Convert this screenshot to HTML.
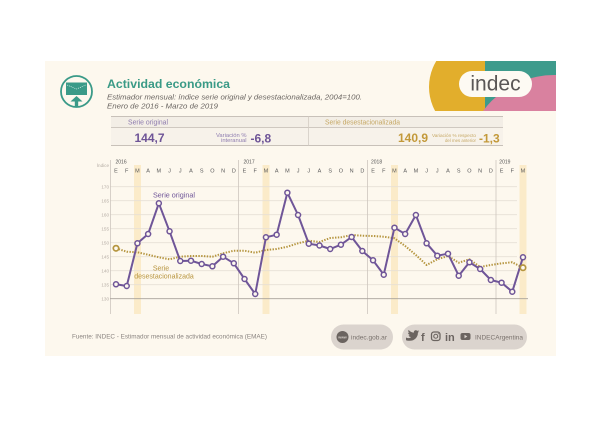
<!DOCTYPE html>
<html><head><meta charset="utf-8"><style>
html,body{margin:0;padding:0;background:#fff;}
svg{display:block;}
text{font-family:"Liberation Sans",sans-serif;}
</style></head><body>
<svg width="600" height="430" viewBox="0 0 600 430" xmlns="http://www.w3.org/2000/svg">
<defs>
<clipPath id="cc"><rect x="45" y="61" width="511" height="50"/></clipPath>
</defs>
<rect x="0" y="0" width="600" height="430" fill="#fff"/>
<rect x="45" y="61" width="511" height="295" fill="#fdf8ee"/>

<!-- decoration -->
<g clip-path="url(#cc)">
<circle cx="479" cy="87" r="50" fill="#e2ae2c"/>
<rect x="485" y="61" width="71" height="50" fill="#3e9b8c"/>
<circle cx="554" cy="163" r="88" fill="#d9819f"/>
</g>
<rect x="459" y="71" width="73" height="26" rx="13" fill="#fdfaf3"/>
<text x="495.5" y="90.5" font-size="21" fill="#5a5756" text-anchor="middle">indec</text>

<!-- icon -->
<circle cx="76.5" cy="91.5" r="15.5" fill="#fdf8ee" stroke="#3a9a88" stroke-width="1.8"/>
<rect x="66" y="82.5" width="21" height="12.5" fill="#3a9a88"/>
<polyline points="67,85 76.5,89 86,85" fill="none" stroke="#fff" stroke-width="0.6" stroke-dasharray="1 1"/>
<polygon points="70.5,101.5 82.5,101.5 76.5,96" fill="#3a9a88"/>
<rect x="74.8" y="101" width="3.4" height="6" fill="#3a9a88"/>

<!-- title -->
<text x="107" y="88" font-size="12.3" font-weight="bold" fill="#3a9a86" textLength="123" lengthAdjust="spacingAndGlyphs">Actividad económica</text>
<text x="107" y="99.5" font-size="7" font-style="italic" fill="#6a6561" textLength="255" lengthAdjust="spacingAndGlyphs">Estimador mensual: índice serie original y desestacionalizada, 2004=100.</text>
<text x="107" y="108.6" font-size="7" font-style="italic" fill="#6a6561" textLength="111" lengthAdjust="spacingAndGlyphs">Enero de 2016 - Marzo de 2019</text>

<!-- table -->
<rect x="111" y="116.5" width="392" height="11" fill="#f3eee6"/>
<rect x="111" y="127.5" width="392" height="18" fill="#f7f2ea"/>
<line x1="111" y1="116.5" x2="503" y2="116.5" stroke="#c8c1b9" stroke-width="1"/>
<line x1="111" y1="127.5" x2="503" y2="127.5" stroke="#cfc8c0" stroke-width="1"/>
<line x1="111" y1="145.5" x2="503" y2="145.5" stroke="#c8c1b9" stroke-width="1"/>
<line x1="308.5" y1="116.5" x2="308.5" y2="145.5" stroke="#d3ccc4" stroke-width="0.8"/>
<text x="128" y="124.5" font-size="6.9" fill="#8e7caf" textLength="40" lengthAdjust="spacingAndGlyphs">Serie original</text>
<text x="325" y="124.5" font-size="6.9" fill="#c6a865" textLength="75" lengthAdjust="spacingAndGlyphs">Serie desestacionalizada</text>
<text x="134.5" y="142" font-size="12" font-weight="bold" fill="#6e5497">144,7</text>
<text x="246.5" y="137" font-size="5.8" fill="#8e7caf" text-anchor="end">Variación %</text>
<text x="246.5" y="142" font-size="5.8" fill="#8e7caf" text-anchor="end">interanual</text>
<text x="250.5" y="142.5" font-size="12" font-weight="bold" fill="#6e5497">-6,8</text>
<text x="398" y="142" font-size="12" font-weight="bold" fill="#c3993a">140,9</text>
<text x="432" y="136.8" font-size="4.8" fill="#c6a865" textLength="44" lengthAdjust="spacingAndGlyphs">Variación % respecto</text>
<text x="445" y="141.8" font-size="4.8" fill="#c6a865" textLength="31" lengthAdjust="spacingAndGlyphs">del mes anterior</text>
<text x="479" y="142.5" font-size="12" font-weight="bold" fill="#c3993a">-1,3</text>

<!-- chart bands -->
<rect x="134" y="165" width="7" height="149" fill="#fbebc9"/>
<rect x="262.5" y="165" width="7" height="149" fill="#fbebc9"/>
<rect x="391" y="165" width="7" height="149" fill="#fbebc9"/>
<rect x="519.5" y="165" width="7" height="149" fill="#fbebc9"/>

<!-- grid -->
<g stroke="#e7e0d6" stroke-width="0.8">
<line x1="110" y1="186.7" x2="517" y2="186.7"/>
<line x1="110" y1="200.7" x2="517" y2="200.7"/>
<line x1="110" y1="214.7" x2="517" y2="214.7"/>
<line x1="110" y1="228.7" x2="517" y2="228.7"/>
<line x1="110" y1="242.7" x2="517" y2="242.7"/>
<line x1="110" y1="256.7" x2="517" y2="256.7"/>
<line x1="110" y1="270.7" x2="517" y2="270.7"/>
<line x1="110" y1="284.7" x2="517" y2="284.7"/>
</g>
<g stroke="#cdc6be" stroke-width="0.8">
<line x1="110.5" y1="160" x2="110.5" y2="314"/>
<line x1="238.5" y1="160" x2="238.5" y2="314"/>
<line x1="367.5" y1="160" x2="367.5" y2="314"/>
<line x1="496" y1="160" x2="496" y2="314"/>
</g>
<line x1="110" y1="298.7" x2="528" y2="298.7" stroke="#a8a19a" stroke-width="0.9"/>

<g font-size="4.6" fill="#b5ada5" text-anchor="end">
<text x="109" y="167">Índice</text>
<text x="109" y="188.4">170</text>
<text x="109" y="202.4">165</text>
<text x="109" y="216.4">160</text>
<text x="109" y="230.4">155</text>
<text x="109" y="244.4">150</text>
<text x="109" y="258.4">145</text>
<text x="109" y="272.4">140</text>
<text x="109" y="286.4">135</text>
<text x="109" y="300.4">130</text>
</g>

<g font-size="5" fill="#555">
<text x="115.5" y="163.5">2016</text>
<text x="243.5" y="163.5">2017</text>
<text x="371" y="163.5">2018</text>
<text x="499.3" y="163.5">2019</text>
</g>
<g font-size="5.5" fill="#5a5a5a" text-anchor="middle">
<text x="116" y="172.5">E</text><text x="126.71" y="172.5">F</text><text x="137.42" y="172.5">M</text><text x="148.13" y="172.5">A</text><text x="158.84" y="172.5">M</text><text x="169.55" y="172.5">J</text><text x="180.26" y="172.5">J</text><text x="190.97" y="172.5">A</text><text x="201.68" y="172.5">S</text><text x="212.39" y="172.5">O</text><text x="223.1" y="172.5">N</text><text x="233.81" y="172.5">D</text>
<text x="244.52" y="172.5">E</text><text x="255.23" y="172.5">F</text><text x="265.94" y="172.5">M</text><text x="276.65" y="172.5">A</text><text x="287.36" y="172.5">M</text><text x="298.07" y="172.5">J</text><text x="308.78" y="172.5">J</text><text x="319.49" y="172.5">A</text><text x="330.2" y="172.5">S</text><text x="340.91" y="172.5">O</text><text x="351.62" y="172.5">N</text><text x="362.33" y="172.5">D</text>
<text x="373.04" y="172.5">E</text><text x="383.75" y="172.5">F</text><text x="394.46" y="172.5">M</text><text x="405.17" y="172.5">A</text><text x="415.88" y="172.5">M</text><text x="426.59" y="172.5">J</text><text x="437.3" y="172.5">J</text><text x="448.01" y="172.5">A</text><text x="458.72" y="172.5">S</text><text x="469.43" y="172.5">O</text><text x="480.14" y="172.5">N</text><text x="490.85" y="172.5">D</text>
<text x="501.56" y="172.5">E</text><text x="512.27" y="172.5">F</text><text x="522.98" y="172.5">M</text>
</g>

<!-- desest series -->
<polyline fill="none" stroke="#b5953f" stroke-width="2" stroke-dasharray="1.4 1.4" stroke-linejoin="round" points="116,248.3 126.71,251.7 137.42,252.3 148.13,254.7 158.84,257.3 169.55,259.3 180.26,256.7 190.97,256 201.68,256 212.39,256.7 223.1,253.3 233.81,250.7 244.52,250.7 255.23,252.7 265.94,250 276.65,249 287.36,246.7 298.07,243.3 308.78,240.7 319.49,242 330.2,238 340.91,237.3 351.62,235 362.33,235.7 373.04,236 383.75,236.7 394.46,238.3 405.17,246 415.88,255 426.59,265 437.3,259.3 448.01,256 458.72,262.7 469.43,259.3 480.14,267 490.85,265 501.56,263.3 512.27,262.3 522.98,267.7"/>

<!-- original series -->
<polyline fill="none" stroke="#6f5598" stroke-width="2" stroke-linejoin="round" points="116,284.3 126.71,286 137.42,243.3 148.13,234 158.84,203.3 169.55,231.3 180.26,261 190.97,260.7 201.68,264 212.39,266.3 223.1,256.7 233.81,263.3 244.52,279 255.23,294 265.94,237.3 276.65,234.7 287.36,192.7 298.07,215 308.78,243.7 319.49,245.5 330.2,249 340.91,244.7 351.62,237 362.33,251 373.04,260.3 383.75,274.7 394.46,227.7 405.17,234 415.88,215 426.59,243.3 437.3,255.7 448.01,253.7 458.72,275.7 469.43,262.3 480.14,269 490.85,280 501.56,282.7 512.27,291.7 522.98,257.3"/>
<g fill="#fdf8ee" stroke="#6f5598" stroke-width="1.5">
<circle cx="116" cy="284.3" r="2.5"/><circle cx="126.71" cy="286" r="2.5"/><circle cx="137.42" cy="243.3" r="2.5"/><circle cx="148.13" cy="234" r="2.5"/><circle cx="158.84" cy="203.3" r="2.5"/><circle cx="169.55" cy="231.3" r="2.5"/><circle cx="180.26" cy="261" r="2.5"/><circle cx="190.97" cy="260.7" r="2.5"/><circle cx="201.68" cy="264" r="2.5"/><circle cx="212.39" cy="266.3" r="2.5"/><circle cx="223.1" cy="256.7" r="2.5"/><circle cx="233.81" cy="263.3" r="2.5"/>
<circle cx="244.52" cy="279" r="2.5"/><circle cx="255.23" cy="294" r="2.5"/><circle cx="265.94" cy="237.3" r="2.5"/><circle cx="276.65" cy="234.7" r="2.5"/><circle cx="287.36" cy="192.7" r="2.5"/><circle cx="298.07" cy="215" r="2.5"/><circle cx="308.78" cy="243.7" r="2.5"/><circle cx="319.49" cy="245.5" r="2.5"/><circle cx="330.2" cy="249" r="2.5"/><circle cx="340.91" cy="244.7" r="2.5"/><circle cx="351.62" cy="237" r="2.5"/><circle cx="362.33" cy="251" r="2.5"/>
<circle cx="373.04" cy="260.3" r="2.5"/><circle cx="383.75" cy="274.7" r="2.5"/><circle cx="394.46" cy="227.7" r="2.5"/><circle cx="405.17" cy="234" r="2.5"/><circle cx="415.88" cy="215" r="2.5"/><circle cx="426.59" cy="243.3" r="2.5"/><circle cx="437.3" cy="255.7" r="2.5"/><circle cx="448.01" cy="253.7" r="2.5"/><circle cx="458.72" cy="275.7" r="2.5"/><circle cx="469.43" cy="262.3" r="2.5"/><circle cx="480.14" cy="269" r="2.5"/><circle cx="490.85" cy="280" r="2.5"/>
<circle cx="501.56" cy="282.7" r="2.5"/><circle cx="512.27" cy="291.7" r="2.5"/><circle cx="522.98" cy="257.3" r="2.5"/>
</g>
<g fill="#fdf8ee" stroke="#b5953f" stroke-width="1.7">
<circle cx="116" cy="248.3" r="2.7"/>
<circle cx="522.98" cy="267.7" r="2.7"/>
</g>

<text x="174" y="197.3" font-size="7.2" fill="#6f5598" text-anchor="middle">Serie original</text>
<text x="161" y="270.5" font-size="7" fill="#b8953f" text-anchor="middle">Serie</text>
<text x="164" y="278.3" font-size="7" fill="#b8953f" text-anchor="middle">desestacionalizada</text>

<!-- footer -->
<text x="72" y="338.5" font-size="6.2" fill="#8a8480" textLength="195" lengthAdjust="spacingAndGlyphs">Fuente: INDEC - Estimador mensual de actividad económica (EMAE)</text>
<rect x="331" y="324.5" width="62" height="25" rx="12.5" fill="#dbd4ce"/>
<circle cx="342.5" cy="337" r="6" fill="#6b6460"/>
<text x="342.5" y="338.6" font-size="3.6" font-weight="bold" fill="#dbd4ce" text-anchor="middle">www</text>
<text x="351" y="339.5" font-size="6.5" fill="#7a726d" textLength="36" lengthAdjust="spacingAndGlyphs">indec.gob.ar</text>

<rect x="402" y="324.5" width="125" height="25" rx="12.5" fill="#dbd4ce"/>
<path d="M407,335.5 C409,336.5 411,336.3 412,335 C410.5,335 409.8,334 409.6,333.2 C410.2,333.3 410.6,333.2 411,333 C409.6,332.6 409,331.6 409,330.6 C409.5,330.9 410,331 410.4,331 C409.2,330.1 409,328.8 409.6,327.9 C411,329.6 412.8,330.6 414.8,330.7 C414.5,328.6 416.8,327.4 418.3,328.9 C418.9,328.8 419.4,328.6 419.9,328.3 C419.7,328.9 419.3,329.4 418.8,329.7 C419.3,329.6 419.8,329.5 420.2,329.3 C419.8,329.9 419.4,330.3 418.9,330.7 C419.1,335.9 414,340.5 407,338.2 Z" fill="#6b6460" transform="translate(-1,2) scale(1)"/>
<text x="421" y="341" font-size="11" font-weight="bold" fill="#6b6460">f</text>
<rect x="431.5" y="332" width="8.5" height="8.5" rx="2.4" fill="none" stroke="#6b6460" stroke-width="1.3"/>
<circle cx="435.75" cy="336.25" r="2" fill="none" stroke="#6b6460" stroke-width="1.1"/>
<circle cx="438.3" cy="333.7" r="0.55" fill="#6b6460"/>
<text x="445" y="341" font-size="11" font-weight="bold" fill="#6b6460">in</text>
<rect x="460.5" y="333" width="10" height="7" rx="2" fill="#6b6460"/>
<polygon points="464.5,334.8 464.5,338.2 467.3,336.5" fill="#dbd4ce"/>
<text x="475" y="339.3" font-size="6.2" fill="#7a726d" textLength="48" lengthAdjust="spacingAndGlyphs">INDECArgentina</text>
</svg>
</body></html>
